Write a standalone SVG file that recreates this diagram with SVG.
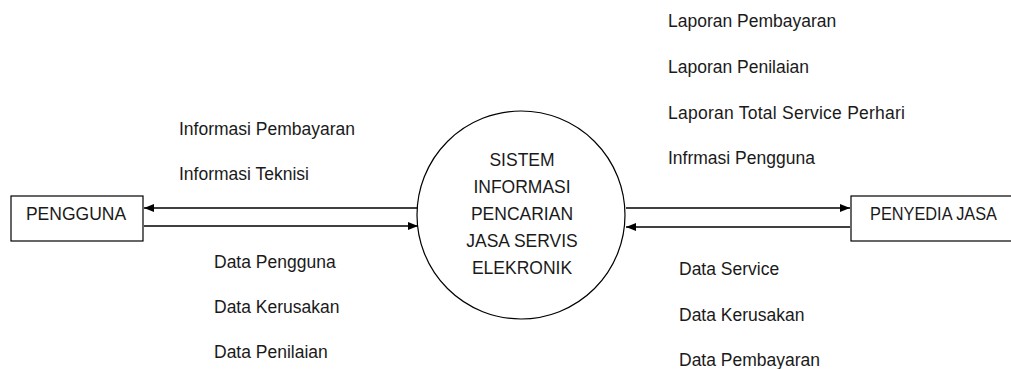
<svg xmlns="http://www.w3.org/2000/svg" width="1011" height="369" viewBox="0 0 1011 369">
  <defs>
    <marker id="arrow" viewBox="0 0 10 10" refX="10" refY="5" markerWidth="10" markerHeight="10" markerUnits="userSpaceOnUse" orient="auto">
      <path d="M0,1 L10,5 L0,9 z" fill="#000"/>
    </marker>
    <style>
      text { font-family: "Liberation Sans", Arial, sans-serif; font-size: 17.5px; fill: #1a1a1a; }
      .box { fill: #fff; stroke: #000; stroke-width: 1.2; }
      .flow { stroke: #000; stroke-width: 1.3; fill: none; marker-end: url(#arrow); }
      .mid { text-anchor: middle; }
    </style>
  </defs>
  <rect width="1011" height="369" fill="#fff"/>

  <!-- data flows -->
  <g id="connectors">
    <line class="flow" x1="418" y1="208" x2="144" y2="208"/>
    <line class="flow" x1="144" y1="226" x2="418" y2="226"/>
    <line class="flow" x1="626" y1="208" x2="850" y2="208"/>
    <line class="flow" x1="850" y1="227" x2="626" y2="227"/>
  </g>

  <g id="pengguna">
    <rect class="box" x="11" y="196" width="132" height="45"/>
    <text class="mid" x="76" y="220">PENGGUNA</text>
  </g>

  <g id="sistem">
    <circle cx="521" cy="215" r="104" fill="#fff" stroke="#000" stroke-width="1.2"/>
    <text class="mid" x="522" y="166">SISTEM</text>
    <text class="mid" x="522" y="193">INFORMASI</text>
    <text class="mid" x="522" y="220">PENCARIAN</text>
    <text class="mid" x="522" y="247">JASA SERVIS</text>
    <text class="mid" x="522" y="274">ELEKRONIK</text>
  </g>

  <g id="penyedia-jasa">
    <rect class="box" x="851" y="196" width="170" height="45"/>
    <text x="870" y="220" textLength="127" lengthAdjust="spacingAndGlyphs">PENYEDIA JASA</text>
  </g>

  <!-- flow labels -->
  <g id="labels">
    <text x="179" y="135">Informasi Pembayaran</text>
    <text x="179" y="180">Informasi Teknisi</text>
    <text x="214" y="268">Data Pengguna</text>
    <text x="214" y="313">Data Kerusakan</text>
    <text x="214" y="358">Data Penilaian</text>
    <text x="668" y="27">Laporan Pembayaran</text>
    <text x="668" y="73">Laporan Penilaian</text>
    <text x="668" y="119" textLength="237">Laporan Total Service Perhari</text>
    <text x="668" y="164">Infrmasi Pengguna</text>
    <text x="679" y="275">Data Service</text>
    <text x="679" y="321">Data Kerusakan</text>
    <text x="679" y="366">Data Pembayaran</text>
  </g>
</svg>
